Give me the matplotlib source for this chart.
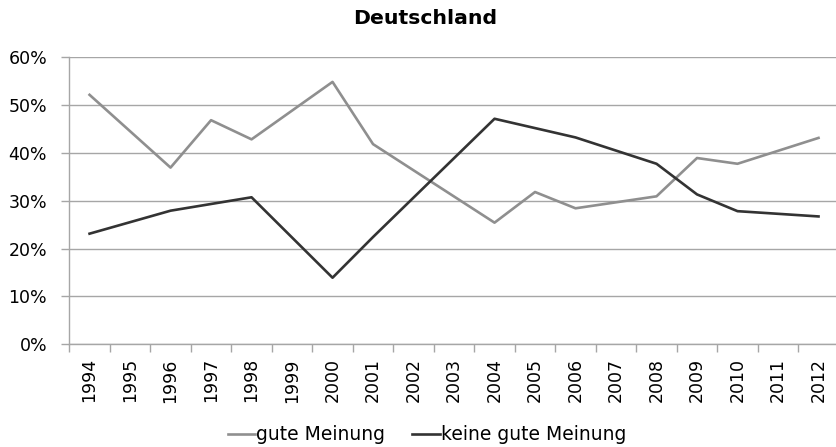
import matplotlib
matplotlib.use("Agg")
import matplotlib.pyplot as plt
from matplotlib.ticker import FuncFormatter, FixedLocator

plt.rcParams['font.family'] = ['DejaVu Sans']

years = list(range(1994, 2013))
gute_years = [1994, 1996, 1997, 1998, 2000, 2001, 2004, 2005, 2006, 2008, 2009, 2010, 2012]
gute_vals = [52.1, 36.9, 46.8, 42.8, 54.8, 41.8, 25.4, 31.8, 28.4, 30.9, 38.9, 37.7, 43.1]
keine_years = [1994, 1996, 1998, 2000, 2001, 2004, 2006, 2008, 2009, 2010, 2012]
keine_vals = [23.1, 27.9, 30.7, 13.9, 22.4, 47.1, 43.2, 37.7, 31.3, 27.8, 26.7]
yticks = [0, 10, 20, 30, 40, 50, 60]

fig = plt.figure(figsize=(8.37, 4.47), dpi=100)
ax = fig.add_axes([0.0828, 0.2298, 0.9193, 0.6427])

grid_c = '#a6a6a6'
ax.set_xlim(1993.5, 2012.5)
ax.set_ylim(0, 60)
ax.set_yticks(yticks)
ax.yaxis.set_major_formatter(FuncFormatter(lambda v, p: f"{int(v)}%"))
ax.grid(axis='y', color=grid_c, linewidth=1.0)
ax.set_axisbelow(True)

ax.set_xticks(years)
ax.set_xticklabels([str(y) for y in years], rotation=90, fontsize=12.5)
ax.xaxis.set_minor_locator(FixedLocator([y + 0.5 for y in [1993] + years]))
ax.tick_params(axis='x', which='major', length=0, pad=10)
ax.tick_params(axis='x', which='minor', length=5.5, color=grid_c, width=1.0)
ax.tick_params(axis='y', length=6, color=grid_c, width=1.0, labelsize=12.5, pad=10)

for s in ['top', 'right']:
    ax.spines[s].set_visible(False)
for s in ['left', 'bottom']:
    ax.spines[s].set_color(grid_c)
    ax.spines[s].set_linewidth(1.0)

l1, = ax.plot(gute_years, gute_vals, color='#8f8f8f', linewidth=1.9, label='gute Meinung')
l2, = ax.plot(keine_years, keine_vals, color='#333333', linewidth=1.9, label='keine gute Meinung')

fig.text(425 / 837, 1 - 19 / 447, 'Deutschland', ha='center', va='center',
         fontsize=14.7, fontweight='bold')

fig.legend(handles=[l1, l2], loc='center', bbox_to_anchor=(427 / 837, 1 - 435 / 447),
           ncol=2, frameon=False, fontsize=13.5, handlelength=1.45, handletextpad=0.08,
           columnspacing=1.45, borderaxespad=0, borderpad=0)

fig.savefig('out.png', dpi=100)
